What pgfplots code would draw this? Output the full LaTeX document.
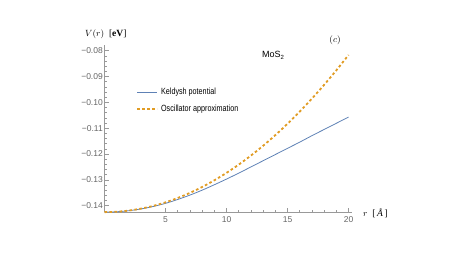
\documentclass[border=0pt]{standalone}
\usepackage{pgfplots}
\pgfplotsset{compat=1.18}
\usepackage{fontspec}
\setmainfont{Liberation Serif}
\newfontfamily\mma{Liberation Sans}
\newfontfamily\mmanarrow[FakeStretch=0.8]{Liberation Sans}
\definecolor{mblue}{rgb}{0.368417,0.506779,0.709798}
\definecolor{morange}{rgb}{0.880722,0.611041,0.142051}
\definecolor{tickgray}{gray}{0.4}
\definecolor{axgray}{gray}{0.6}
\begin{document}
\begin{tikzpicture}[x=1pt,y=1pt]
\useasboundingbox (0,0) rectangle (463,261);
\begin{axis}[
  at={(104.5pt,48.6pt)}, anchor=south west,
  scale only axis, width=247.1pt, height=167.4pt,
  xmin=0, xmax=20.25, ymin=-0.1426, ymax=-0.0778,
  axis x line=bottom, axis y line=left,
  axis line style={axgray, line width=0.6pt, -},
  clip=false,
  xtick={5,10,15,20}, xticklabels={5,10,15,20},
  ytick={-0.14,-0.13,-0.12,-0.11,-0.10,-0.09,-0.08},
  yticklabels={−0.14,−0.13,−0.12,−0.11,−0.10,−0.09,−0.08},
  minor x tick num=4, minor y tick num=4,
  tick align=inside, major tick length=4pt, minor tick length=2pt,
  tick style={axgray, line width=0.5pt},
  xticklabel style={font=\mma\fontsize{8.5}{10}\selectfont, text=tickgray, inner sep=1pt, yshift=-3pt},
  yticklabel style={font=\mma\fontsize{8.5}{10}\selectfont, text=tickgray, inner sep=1.5pt},
  legend cell align=left,
  legend image code/.code={\draw[#1] (0pt,0pt) -- (20pt,0pt);},
  legend style={draw=none, fill=none, at={(axis description cs:0.128,0.667)}, anchor=west,
    font=\mmanarrow\fontsize{9}{10}\selectfont, inner sep=0pt, row sep=5.8pt, column sep=2pt,
    nodes={inner sep=1pt, text height=6.5pt, text depth=2pt}},
]
\addplot[mblue, line width=0.8pt, smooth] coordinates {
(0,-0.14250) (1,-0.14236) (2,-0.14194) (3,-0.14125) (4,-0.14030) (5,-0.13910)
(6,-0.13760) (7,-0.13590) (8,-0.13400) (9,-0.13190) (10,-0.12970) (11,-0.12740)
(12,-0.12500) (13,-0.12260) (14,-0.12020) (15,-0.11780) (16,-0.11540) (17,-0.11290)
(18,-0.11050) (19,-0.10810) (20,-0.10570)};
\addlegendentry{Keldysh potential}
\addplot[morange, line width=1.8pt, dash pattern=on 2.6pt off 2.4pt, smooth] coordinates {
(0,-0.14250) (1,-0.14235) (2,-0.14189) (3,-0.14113) (4,-0.14007) (5,-0.13870)
(6,-0.13702) (7,-0.13505) (8,-0.13277) (9,-0.13018) (10,-0.12729) (11,-0.12410)
(12,-0.12060) (13,-0.11680) (14,-0.11269) (15,-0.10828) (16,-0.10356) (17,-0.09854)
(18,-0.09322) (19,-0.08759) (20,-0.08166)};
\addlegendentry{Oscillator approximation}
\end{axis}
\node[anchor=west, inner sep=0pt, font=\fontsize{9.5}{11}\selectfont] at (85,227) {$V(r)$\ \ [\textbf{eV}]};
\node[inner sep=0pt, font=\fontsize{9.5}{11}\selectfont] at (335,221) {$(c)$};
\node[anchor=base west, inner sep=0pt, font=\mma\fontsize{9}{10}\selectfont] at (262,203) {MoS\textsubscript{2}};
\node[anchor=west, inner sep=0pt, font=\fontsize{9.5}{11}\selectfont] at (363,48) {$r$\ \ [\,\textit{Å}\,]};
\end{tikzpicture}
\end{document}
